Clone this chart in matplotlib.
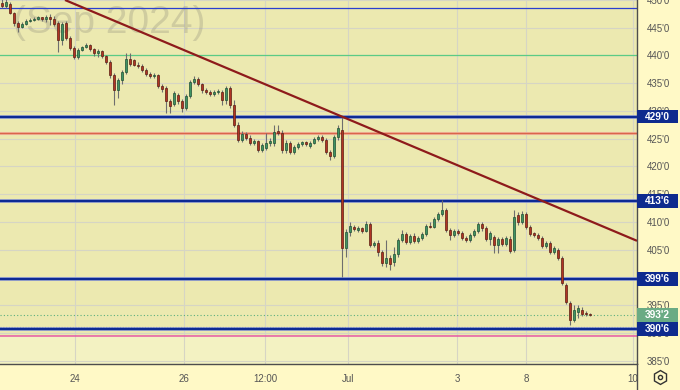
import matplotlib
matplotlib.use('Agg')
import matplotlib.pyplot as plt
import matplotlib.transforms as mtransforms
from matplotlib.lines import Line2D
from matplotlib.patches import Rectangle
import numpy as np

# hourly-ish candles, Sep 2024 contract
opens = [449.5, 448.9, 449.3, 447.7, 445.9, 445.1, 445.7, 446.2, 446.4, 446.6,
         446.8, 446.6, 446.9, 446.6, 445.9, 442.8, 445.9, 443.2, 441.4, 439.7,
         441.0, 441.5, 441.9, 441.2, 440.4, 440.8, 439.9, 438.8, 436.5, 433.8,
         435.6, 437.0, 439.4, 439.2, 438.3, 438.1, 437.4, 436.7, 436.3, 436.5,
         434.5, 434.1, 431.8, 431.3, 432.9, 431.8, 430.5, 432.7, 435.2, 435.8,
         434.9, 433.8, 433.4, 433.1, 433.4, 433.4, 432.0, 434.1, 431.1, 427.5,
         424.8, 425.9, 425.1, 424.2, 424.6, 423.0, 423.3, 424.2, 424.2, 426.4,
         426.0, 423.0, 424.2, 422.6, 423.5, 424.1, 424.2, 423.7, 424.2, 425.0,
         425.3, 424.8, 422.6, 421.9, 425.3, 426.6, 405.3, 408.2, 409.1, 408.6,
         408.9, 408.4, 409.6, 405.9, 406.2, 404.6, 402.6, 403.5, 402.8, 404.2,
         406.8, 407.8, 406.4, 407.5, 406.6, 407.1, 407.8, 409.3, 409.1, 410.5,
         411.4, 412.2, 408.6, 407.7, 408.4, 408.0, 407.1, 406.8, 407.7, 408.4,
         409.6, 408.9, 406.9, 407.3, 405.9, 406.9, 406.0, 406.9, 405.0, 411.3,
         410.0, 411.4, 409.1, 407.8, 407.7, 407.1, 405.7, 406.2, 404.6, 405.0,
         403.5, 398.6, 395.4, 392.3, 393.8, 394.1, 393.6, 393.4]
highs = [450.5, 450.4, 449.6, 447.8, 446.2, 446.0, 446.6, 446.8, 446.9, 447.1,
         446.9, 447.3, 447.5, 447.1, 446.2, 446.0, 446.2, 443.5, 441.7, 441.4,
         441.7, 442.3, 442.1, 441.4, 441.2, 441.0, 440.1, 439.2, 436.8, 435.9,
         437.4, 440.4, 440.4, 439.4, 438.8, 438.5, 437.7, 437.0, 436.8, 436.7,
         434.9, 434.5, 432.2, 433.6, 433.2, 432.2, 433.1, 435.6, 436.3, 436.1,
         435.0, 434.1, 433.8, 433.8, 434.0, 433.8, 434.5, 434.5, 432.0, 428.0,
         426.4, 426.2, 425.7, 425.0, 424.8, 424.2, 426.0, 425.1, 427.5, 427.5,
         426.6, 424.8, 424.6, 423.9, 424.4, 424.6, 424.6, 424.6, 425.3, 425.7,
         425.7, 425.1, 423.0, 425.7, 427.5, 429.1, 408.7, 410.0, 409.5, 409.3,
         409.1, 410.2, 410.0, 406.6, 406.8, 405.0, 406.8, 404.1, 405.5, 407.1,
         408.6, 408.2, 407.8, 408.0, 407.5, 408.2, 409.6, 410.0, 410.9, 411.8,
         414.0, 412.5, 408.9, 408.7, 408.7, 408.4, 407.5, 408.0, 408.7, 410.0,
         410.0, 409.3, 408.4, 407.7, 407.3, 407.3, 407.5, 407.5, 412.2, 411.8,
         412.0, 411.8, 409.5, 408.2, 408.0, 407.5, 406.6, 406.6, 405.7, 405.3,
         403.9, 399.0, 395.8, 395.0, 395.0, 394.7, 394.0, 393.6]
lows = [448.6, 448.6, 447.5, 445.3, 444.2, 445.0, 445.5, 446.0, 446.2, 446.4,
        446.2, 446.0, 445.5, 445.3, 440.6, 441.9, 442.8, 441.0, 439.4, 439.4,
        440.8, 441.4, 440.8, 439.9, 439.7, 439.5, 438.5, 435.9, 431.1, 432.3,
        434.9, 436.7, 438.1, 438.1, 437.7, 437.0, 436.3, 435.9, 435.9, 434.1,
        433.4, 429.6, 429.6, 430.9, 431.3, 429.8, 430.2, 432.3, 434.9, 434.5,
        433.2, 433.1, 432.7, 432.7, 433.1, 431.1, 431.3, 430.5, 427.1, 424.4,
        424.4, 424.8, 423.9, 423.9, 422.6, 422.6, 423.0, 423.7, 423.7, 425.7,
        422.4, 422.4, 422.2, 422.2, 423.2, 423.7, 423.7, 423.3, 424.1, 424.6,
        424.4, 422.2, 421.2, 421.5, 424.8, 400.1, 403.7, 407.5, 408.4, 408.2,
        408.0, 408.2, 405.5, 405.5, 403.9, 402.1, 401.9, 401.4, 402.1, 403.7,
        406.4, 406.0, 406.0, 406.2, 406.2, 406.8, 407.5, 408.9, 408.9, 410.2,
        411.1, 408.2, 406.8, 407.3, 407.7, 406.8, 406.4, 406.4, 407.3, 408.0,
        408.4, 406.6, 405.9, 404.4, 404.4, 405.7, 405.7, 404.4, 404.6, 409.5,
        409.6, 408.7, 407.5, 407.3, 406.8, 405.3, 405.3, 404.2, 404.2, 403.2,
        398.6, 395.2, 391.4, 392.0, 392.7, 393.1, 393.1, 393.1]
closes = [448.9, 449.6, 447.7, 445.9, 445.1, 445.7, 446.2, 446.4, 446.6, 446.8,
          446.6, 446.9, 446.6, 445.7, 442.8, 445.7, 443.2, 441.4, 439.7, 441.0,
          441.5, 441.9, 441.2, 440.4, 440.8, 439.9, 438.8, 436.5, 433.8, 435.6,
          437.0, 439.4, 438.5, 438.3, 438.1, 437.4, 436.7, 436.3, 436.5, 434.5,
          434.0, 431.8, 430.9, 433.2, 431.8, 430.5, 432.7, 435.2, 435.8, 434.9,
          433.8, 433.4, 433.1, 433.4, 433.6, 432.0, 434.1, 431.1, 427.5, 424.8,
          425.9, 425.1, 424.2, 424.6, 423.0, 423.9, 424.2, 424.6, 426.2, 426.0,
          423.0, 424.2, 422.6, 423.5, 424.1, 424.2, 424.1, 424.2, 425.0, 425.3,
          424.8, 422.6, 421.9, 425.3, 426.9, 405.3, 408.2, 409.3, 408.7, 408.9,
          408.4, 409.6, 405.9, 406.2, 404.6, 402.6, 403.5, 402.4, 404.2, 406.8,
          407.8, 406.4, 407.5, 406.6, 407.1, 407.8, 409.3, 409.1, 410.5, 411.4,
          412.2, 408.6, 407.7, 408.4, 408.0, 407.1, 406.8, 407.7, 408.4, 409.6,
          408.9, 406.9, 408.0, 405.9, 406.9, 406.0, 407.1, 404.8, 410.9, 410.0,
          411.4, 409.1, 407.8, 407.7, 407.1, 405.7, 406.2, 404.6, 405.3, 403.5,
          399.0, 395.6, 392.3, 394.1, 394.5, 393.4, 393.4, 393.25]

date_ticks = [18.25, 45.5, 65.75, 86.5, 113.75, 131.0, 157.75]
date_labels = ['24', '26', '12:00', 'Jul', '3', '8', '10']
price_ticks = list(range(385, 451, 5))

blue_levels = [429.0, 413.75, 399.75, 390.75]
top_level = 448.5
green_level = 440.0
orange_level = 426.1
pink_level = 389.5
low_mark = 391.1
last_price = closes[-1]
trend_x = [15.75, 158.75]
trend_y = [450.0, 406.6]


def fmt(v, pos=None):
    whole = int(np.floor(v + 1e-9))
    eighths = int(round((v - whole) * 8))
    return "%d'%d" % (whole, eighths)


FONT = 'Liberation Sans'
W, H = 680, 390
fig = plt.figure(figsize=(W / 100, H / 100), dpi=100, facecolor='#FFF9C6')
ax = fig.add_axes([0, 26 / H, 637 / W, 364 / H])
ax.set_facecolor('#ECE9B0')
ax.set_xlim(-0.5, 158.75)
ax.set_ylim(384.4, 450.0)

# lighter band at the bottom
ax.axhspan(384.4, pink_level, color='#F3F2C2', zorder=0.1, lw=0)

ax.set_xticks(date_ticks)
ax.set_xticklabels(date_labels)
ax.set_yticks(price_ticks)
ax.yaxis.set_major_formatter(plt.FuncFormatter(fmt))
ax.yaxis.tick_right()
ax.tick_params(axis='y', length=0, pad=7, labelsize=7, labelcolor='#555555')
ax.tick_params(axis='x', length=0, pad=7, labelsize=7, labelcolor='#555555')
for lab in ax.get_xticklabels() + ax.get_yticklabels():
    lab.set_family(FONT)
ax.grid(True, color='#D6D5C4', lw=0.8)
ax.set_axisbelow(True)
for s in ['left', 'top']:
    ax.spines[s].set_visible(False)
for s in ['right', 'bottom']:
    ax.spines[s].set_color('#4d4d4d')
    ax.spines[s].set_linewidth(1)

# watermark
ax.text(13 / 637, (364 - 33) / 364, '(Sep 2024)', transform=ax.transAxes,
        fontsize=28, family=FONT, color='#8c8a78', alpha=0.3,
        ha='left', va='baseline', zorder=0.6)

# horizontal levels
ax.axhline(top_level, color='#2A3FD0', lw=0.9, zorder=2)
ax.axhline(green_level, color='#5BCB85', lw=0.9, zorder=2)
ax.axhline(orange_level, color='#F2B8A0', lw=2.2, zorder=2)
ax.axhline(orange_level, color='#D9664A', lw=1.0, zorder=2)
ax.axhline(pink_level, color='#E65AA6', lw=1.1, zorder=2)
ax.axhline(low_mark, color='#8a8a8a', lw=0.8, ls=(0, (1, 1.5)), zorder=2)
ax.axhline(last_price, color='#5BAF7E', lw=0.8, ls=(0, (1, 2)), zorder=2)
for lv in blue_levels:
    ax.axhline(lv, color='#8090D0', lw=2.6, zorder=2)
    ax.axhline(lv, color='#0D2A94', lw=1.5, zorder=2)

# candles
idx = np.arange(len(closes))
o = np.array(opens)
c = np.array(closes)
up = c >= o
body_col = np.where(up, '#3F9363', '#B03424')
edge_col = np.where(up, '#1F4F33', '#5A1E12')
bottoms = np.minimum(o, c)
heights = np.maximum(np.abs(c - o), 0.25)
ax.vlines(idx, lows, highs, color='#6E6E6E', lw=0.8, zorder=3)
ax.bar(idx, heights, bottom=bottoms, width=0.72, color=body_col,
       edgecolor=edge_col, linewidth=0.5, zorder=3.5)

# trend line
ax.plot(trend_x, trend_y, color='#8E1B1B', lw=1.6, zorder=4, solid_capstyle='butt')

# price boxes on the right scale
trans = mtransforms.blended_transform_factory(ax.transAxes, ax.transData)
box_h = 2.5
for lv, fc in [(v, '#0E2A8E') for v in blue_levels] + [(last_price, '#6AAB84')]:
    ax.add_patch(Rectangle((1.0, lv - box_h / 2), 41 / 637, box_h, transform=trans,
                           facecolor=fc, edgecolor='none', clip_on=False, zorder=10))
    ax.text(1.0 + 20.5 / 637, lv, fmt(lv), transform=trans, ha='center', va='center',
            color='white', fontsize=7.3, fontweight='bold', family=FONT,
            clip_on=False, zorder=11)

# cover for the bottom-right corner, axis line and settings icon
fig.add_artist(Rectangle((637 / W, 0), 1 - 637 / W, 25 / H, transform=fig.transFigure,
                         facecolor='#FFF9C6', edgecolor='none', zorder=5))
fig.add_artist(Line2D([637 / W, 637 / W], [0, 26 / H], transform=fig.transFigure,
                      color='#4d4d4d', lw=1, zorder=6))
fig.add_artist(Line2D([660 / W], [1 - 377 / H], transform=fig.transFigure, marker='h',
                      markersize=10, markerfacecolor='none', markeredgecolor='#333333',
                      markeredgewidth=1, zorder=6))
fig.add_artist(Line2D([660 / W], [1 - 377 / H], transform=fig.transFigure, marker='o',
                      markersize=3, markerfacecolor='none', markeredgecolor='#333333',
                      markeredgewidth=1, zorder=6))

fig.savefig('out.png', dpi=100, facecolor=fig.get_facecolor())
